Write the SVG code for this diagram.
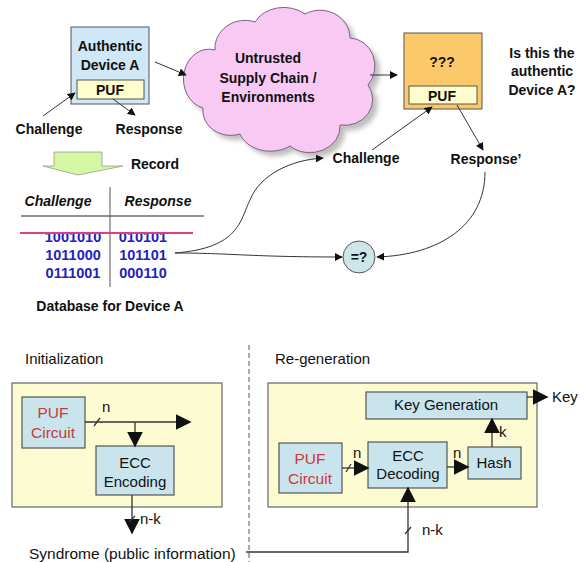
<svg xmlns="http://www.w3.org/2000/svg" width="585" height="562" viewBox="0 0 585 562">
<style>
text{font-family:"Liberation Sans",Arial,sans-serif;fill:#111}
.b{font-weight:bold;font-size:14px}
.t{font-weight:bold;font-size:14.5px;fill:#2222bb}
.r{font-size:15px}
.red{fill:#c83a3a;font-size:15.5px}
.box{fill:#c9e4ec;stroke:#555;stroke-width:1.2}
.outer{fill:#fdfbd2;stroke:#666;stroke-width:1.2}
.thin{fill:none;stroke:#333;stroke-width:1}
.thick{fill:none;stroke:#333;stroke-width:1.3}
</style>
<defs>
<marker id="a" viewBox="0 0 10 10" refX="9" refY="5" markerWidth="8" markerHeight="8" markerUnits="userSpaceOnUse" orient="auto"><path d="M0,0 L10,5 L0,10 z" fill="#111"/></marker>
<marker id="A" viewBox="0 0 10 10" refX="9" refY="5" markerWidth="16" markerHeight="16" markerUnits="userSpaceOnUse" orient="auto"><path d="M0,0 L10,5 L0,10 z" fill="#111"/></marker>
<filter id="sh" x="-10%" y="-10%" width="130%" height="130%"><feGaussianBlur stdDeviation="2.5"/></filter>
</defs>

<g id="authentic-device">
<rect x="71" y="27" width="78" height="77" fill="#cfe7f6" stroke="#555"/>
<text class="b" x="110" y="51" text-anchor="middle">Authentic</text>
<text class="b" x="110" y="70" text-anchor="middle">Device A</text>
<rect x="77" y="80" width="67" height="19" fill="#fffdcc" stroke="#555"/>
<text class="b" x="110" y="95" text-anchor="middle">PUF</text>
</g>

<g id="cloud">
<path d="M215,50 A30,28 0 0 1 255,22 A32,26 0 0 1 305,14 A30,28 0 0 1 350,38 A26,28 0 0 1 368,85 A28,26 0 0 1 340,125 A30,26 0 0 1 290,146 A32,25 0 0 1 240,134 A28,25 0 0 1 203,108 A24,28 0 0 1 215,50 Z" fill="#888" opacity="0.55" transform="translate(5,5)" filter="url(#sh)"/>
<path d="M215,50 A30,28 0 0 1 255,22 A32,26 0 0 1 305,14 A30,28 0 0 1 350,38 A26,28 0 0 1 368,85 A28,26 0 0 1 340,125 A30,26 0 0 1 290,146 A32,25 0 0 1 240,134 A28,25 0 0 1 203,108 A24,28 0 0 1 215,50 Z" fill="#f7c9f3" stroke="#806080" stroke-width="1"/>
<text class="b" x="268" y="63" text-anchor="middle">Untrusted</text>
<text class="b" x="268" y="83" text-anchor="middle">Supply Chain /</text>
<text class="b" x="268" y="102" text-anchor="middle">Environments</text>
</g>

<g id="unknown-device">
<rect x="404" y="33" width="78" height="76" fill="#fcc96a" stroke="#555"/>
<text class="b" x="442" y="67" text-anchor="middle">???</text>
<rect x="409" y="86" width="68" height="18" fill="#fffdcc" stroke="#555"/>
<text class="b" x="442" y="101" text-anchor="middle">PUF</text>
</g>

<g id="question">
<text class="b" x="542" y="58" text-anchor="middle">Is this the</text>
<text class="b" x="542" y="76" text-anchor="middle">authentic</text>
<text class="b" x="542" y="95" text-anchor="middle">Device A?</text>
</g>

<g id="labels-top">
<text class="b" x="49" y="134" text-anchor="middle">Challenge</text>
<text class="b" x="149" y="134" text-anchor="middle">Response</text>
<text class="b" x="155" y="169" text-anchor="middle">Record</text>
<text class="b" x="366" y="163" text-anchor="middle">Challenge</text>
<text class="b" x="486" y="164" text-anchor="middle">Response’</text>
</g>

<g id="record-arrow">
<path d="M54,152 L102,152 L102,166 L123,166 L78,175 L43,166 L54,166 Z" fill="#d4f7a4" stroke="#9a9a9a" stroke-width="0.8"/>
</g>

<g id="database">
<text class="b" x="58" y="206" text-anchor="middle" font-style="italic">Challenge</text>
<text class="b" x="158" y="206" text-anchor="middle" font-style="italic">Response</text>
<line x1="21" y1="216" x2="204" y2="216" stroke="#222" stroke-width="1"/>
<line x1="110" y1="187" x2="110" y2="287" stroke="#555" stroke-width="1"/>
<text class="t" x="73" y="242" text-anchor="middle">1001010</text>
<text class="t" x="143" y="242" text-anchor="middle">010101</text>
<text class="t" x="73" y="260" text-anchor="middle">1011000</text>
<text class="t" x="143" y="260" text-anchor="middle">101101</text>
<text class="t" x="73" y="278" text-anchor="middle">0111001</text>
<text class="t" x="143" y="278" text-anchor="middle">000110</text>
<line x1="20" y1="233" x2="193" y2="233" stroke="#e0407a" stroke-width="2"/>
<text class="b" x="110" y="311" text-anchor="middle">Database for Device A</text>
</g>

<g id="compare">
<circle cx="359" cy="257" r="16" fill="#cce6ea" stroke="#555"/>
<text class="b" x="359" y="262" text-anchor="middle">=?</text>
</g>

<g id="connectors-top">
<line x1="155" y1="62" x2="186" y2="75" class="thin" marker-end="url(#a)"/>
<line x1="43" y1="116" x2="75" y2="93" class="thin" marker-end="url(#a)"/>
<line x1="113" y1="99" x2="135" y2="115" class="thin" marker-end="url(#a)"/>
<line x1="370" y1="75" x2="397" y2="75" class="thin" marker-end="url(#a)"/>
<line x1="372" y1="150" x2="432" y2="107" class="thin" marker-end="url(#a)"/>
<line x1="457" y1="105" x2="483" y2="150" class="thin" marker-end="url(#a)"/>
<path d="M175,253 C240,248 240,220 250,200 C260,175 290,160 323,158" class="thin" marker-end="url(#a)"/>
<path d="M175,253 C230,253 250,257 342,257" class="thin" marker-end="url(#a)"/>
<path d="M485,172 C485,225 440,255 377,257" class="thin" marker-end="url(#a)"/>
</g>

<line id="divider" x1="249" y1="345" x2="249" y2="562" stroke="#555" stroke-dasharray="5,3" stroke-width="1"/>

<g id="initialization">
<text class="r" x="25" y="364">Initialization</text>
<rect class="outer" x="12" y="383" width="210" height="124"/>
</g>
<g id="init-puf">
<rect class="box" x="22" y="397" width="63" height="51"/>
<text class="red" x="53" y="418" text-anchor="middle">PUF</text>
<text class="red" x="53" y="438" text-anchor="middle">Circuit</text>
</g>
<g id="ecc-encoding">
<rect class="box" x="96" y="446" width="78" height="49"/>
<text class="r" x="135" y="468" text-anchor="middle">ECC</text>
<text class="r" x="135" y="487" text-anchor="middle">Encoding</text>
</g>
<g id="syndrome">
<text class="r" x="29" y="559" style="font-size:15.5px">Syndrome (public information)</text>
</g>

<g id="regeneration">
<text class="r" x="275" y="364">Re-generation</text>
<rect class="outer" x="268" y="383" width="269" height="124"/>
</g>
<g id="key-generation">
<rect class="box" x="366" y="392" width="161" height="27"/>
<text class="r" x="446" y="410" text-anchor="middle">Key Generation</text>
</g>
<g id="regen-puf">
<rect class="box" x="279" y="443" width="63" height="50"/>
<text class="red" x="310" y="464" text-anchor="middle">PUF</text>
<text class="red" x="310" y="484" text-anchor="middle">Circuit</text>
</g>
<g id="ecc-decoding">
<rect class="box" x="368" y="442" width="79" height="46"/>
<text class="r" x="408" y="461" text-anchor="middle">ECC</text>
<text class="r" x="408" y="479" text-anchor="middle">Decoding</text>
</g>
<g id="hash">
<rect class="box" x="468" y="447" width="53" height="32"/>
<text class="r" x="494" y="468" text-anchor="middle">Hash</text>
</g>
<g id="key-label">
<text class="r" x="552" y="402">Key</text>
</g>

<g id="connectors-bottom">
<line x1="85" y1="422" x2="190" y2="422" class="thick" marker-end="url(#A)"/>
<line x1="94" y1="426" x2="100" y2="418" class="thick"/>
<text class="r" x="102" y="412">n</text>
<line x1="135" y1="422" x2="135" y2="446" class="thick" marker-end="url(#A)"/>
<line x1="132" y1="495" x2="132" y2="533" class="thick" marker-end="url(#A)"/>
<line x1="129" y1="522" x2="135" y2="516" class="thick"/>
<text class="r" x="140" y="524">n-k</text>
<line x1="527" y1="397" x2="547" y2="397" class="thick" marker-end="url(#A)"/>
<line x1="342" y1="468" x2="368" y2="468" class="thick" marker-end="url(#A)"/>
<line x1="346" y1="472" x2="351" y2="464" class="thick"/>
<text class="r" x="353" y="458">n</text>
<line x1="447" y1="467" x2="468" y2="467" class="thick" marker-end="url(#A)"/>
<text class="r" x="453" y="458">n</text>
<line x1="492" y1="447" x2="492" y2="419" class="thick" marker-end="url(#A)"/>
<text class="r" x="499" y="437">k</text>
<path d="M246,552 L408,552 L408,488" class="thick" marker-end="url(#A)"/>
<line x1="405" y1="534" x2="411" y2="527" class="thick"/>
<text class="r" x="422" y="535">n-k</text>
</g>
</svg>
